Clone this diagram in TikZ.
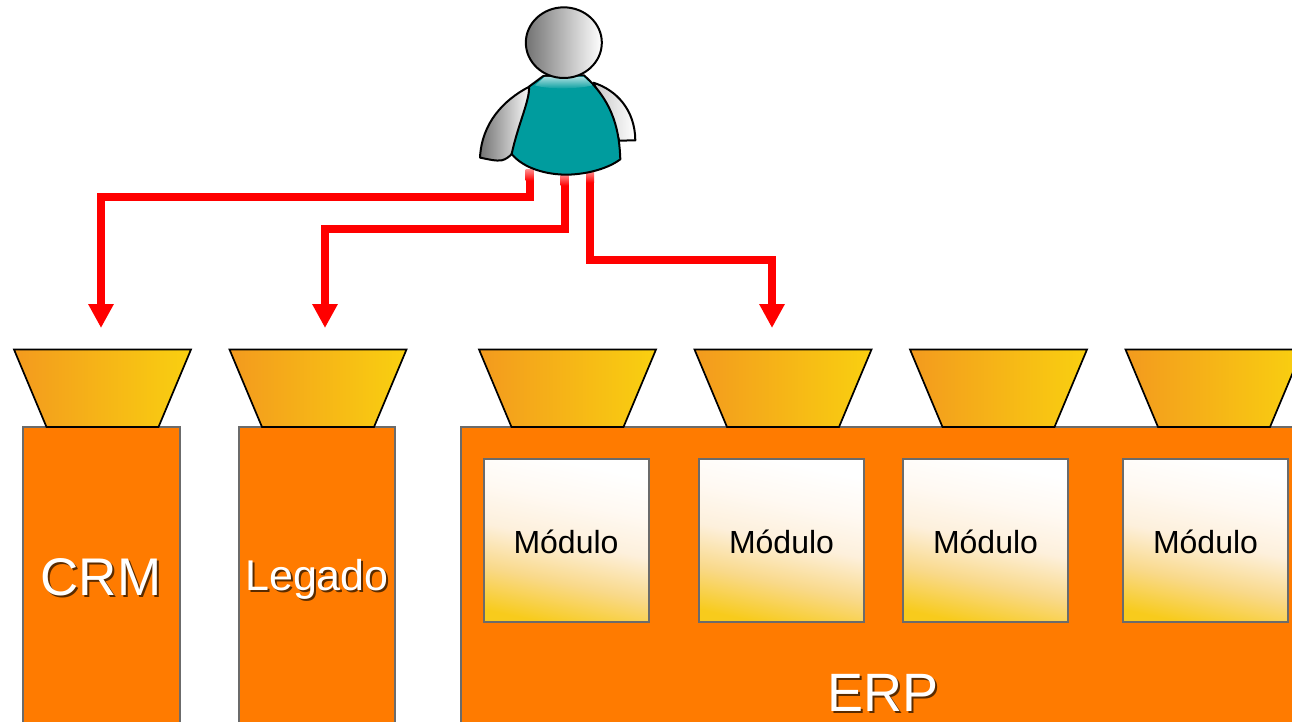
\documentclass[tikz,border=0pt]{standalone}
\usepackage{fontspec}
\setmainfont{Liberation Sans}
\usetikzlibrary{arrows.meta}
\definecolor{boxor}{HTML}{FF7B00}
\definecolor{boxedge}{HTML}{6B6B6B}
\definecolor{teal1}{HTML}{009C9E}
\definecolor{funa}{HTML}{F39A1E}
\definecolor{funb}{HTML}{F9D010}
\definecolor{ma}{HTML}{F8CB1C}
\definecolor{mb}{HTML}{F9D98A}
\definecolor{mc}{HTML}{FDF0DC}
\definecolor{md}{HTML}{FFF9F2}
\pgfdeclareverticalshading{modshade}{100bp}{
  color(0bp)=(ma);
  color(24bp)=(ma);
  color(37bp)=(mb);
  color(50bp)=(mc);
  color(62bp)=(md);
  color(74bp)=(white);
  color(100bp)=(white)}
\tikzset{
  sysbox/.style={rectangle,draw=boxedge,line width=1.8pt,fill=boxor,anchor=north west,inner sep=0pt,outer sep=0pt},
  modbox/.style={rectangle,draw=boxedge,line width=2pt,anchor=north west,minimum width=165pt,minimum height=163pt,inner sep=0pt,outer sep=0pt,shading=modshade,shading angle=-12},
  funnelshape/.style={draw=black,line width=1.7pt,line join=miter,left color=funa,right color=funb,middle color=funa!50!funb},
  redline/.style={draw=red,line width=8pt,line join=miter,-{Triangle[length=24pt,width=24pt]}},
  fadeend/.style={rectangle,inner sep=0pt,outer sep=0pt,minimum width=8pt,minimum height=11pt,top color=red!45,bottom color=red},
  modtext/.style={font=\fontsize{32}{32}\selectfont,anchor=base,text=black,inner sep=0pt},
  bigtext/.style={anchor=base,text=white,inner sep=0pt},
  shadowtext/.style={anchor=base,text=black!65!boxor,inner sep=0pt},
  figure/.style={draw=black,line width=2pt,line join=round},
}
\newcommand{\shadowed}[4]{% name, position, size, text
  \node[shadowtext,font=\fontsize{#3}{#3}\selectfont] (#1s) at ([shift={(2,2)}]#2) {#4};
  \node[bigtext,font=\fontsize{#3}{#3}\selectfont] (#1) at (#2) {#4};}
\newcommand{\funnelat}[1]{\path[funnelshape] (#1,349.5) -- ++(177,0) -- ++(-32.5,77.5) -- ++(-112,0) -- cycle;}
\begin{document}
\begin{tikzpicture}[x=1pt,y=-1pt]
\useasboundingbox (0,0) rectangle (1292,721);
\clip (0,0) rectangle (1292,721);

% systems
\node[sysbox,minimum width=157pt,minimum height=320pt] (crm) at (23,427) {};
\node[sysbox,minimum width=156pt,minimum height=320pt] (leg) at (239,427) {};
\node[sysbox,minimum width=860pt,minimum height=320pt] (erp) at (461,427) {};

% funnels
\funnelat{14}
\funnelat{229.5}
\funnelat{479}
\funnelat{694.5}
\funnelat{910}
\funnelat{1125.5}

% modules
\node[modbox] (m1) at (484,459) {};
\node[modbox] (m2) at (699,459) {};
\node[modbox] (m3) at (903,459) {};
\node[modbox] (m4) at (1123,459) {};
\node[modtext] (mt1) at (566,553) {Módulo};
\node[modtext] (mt2) at (781.5,553) {Módulo};
\node[modtext] (mt3) at (985.5,553) {Módulo};
\node[modtext] (mt4) at (1205.5,553) {Módulo};

\shadowed{crmt}{101,595}{53}{CRM}
\shadowed{legt}{317,590.7}{43}{Legado}
\shadowed{erpt}{883,711}{54}{ERP}

% connectors
\coordinate (p1) at (529.5,170);
\coordinate (p2) at (564.7,170);
\coordinate (p3) at (590,170);
\coordinate (t1) at (101,328);
\coordinate (t2) at (325,328);
\coordinate (t3) at (772,328);
\draw[redline] (p1) |- (101,197) -- (t1);
\draw[redline] (p2) |- (325,229) -- (t2);
\draw[redline] (p3) |- (772,260) -- (t3);
\node[fadeend] (e1) at (529.5,175) {};
\node[fadeend] (e2) at (564.7,180) {};
\node[fadeend] (e3) at (590,177) {};

% person
\begin{scope}[shift={(460,0)},x=0.3333pt,y=-0.3333pt]
  % right arm
  \path[figure,left color=black!22,right color=white]
    (400,248) .. controls (470,270) and (525,330) .. (526,421) -- (478,422) -- (440,330) -- cycle;
  % left arm
  \path[figure,left color=black!55,right color=white]
    (208,260) .. controls (130,300) and (65,370) .. (60,473)
    .. controls (85,478) and (110,484) .. (125,481)
    .. controls (138,478) and (148,470) .. (155,462) -- (215,340) -- cycle;
  % body
  \path[figure,fill=teal1]
    (250,228) -- (207,260) .. controls (210,300) and (175,370) .. (155,462)
    .. controls (190,505) and (260,525) .. (325,524)
    .. controls (385,522) and (445,505) .. (481,478)
    .. controls (478,400) and (465,310) .. (372,226) -- cycle;
  % collar highlight
  \path[top color=teal1!35!white,bottom color=teal1]
    (254,231) -- (225,256) .. controls (260,268) and (350,268) .. (398,256) -- (371,231) -- cycle;
  % head
  \path[figure,left color=black!55,right color=white]
    (311.5,128) ellipse [x radius=114,y radius=106];
\end{scope}
\end{tikzpicture}
\end{document}
